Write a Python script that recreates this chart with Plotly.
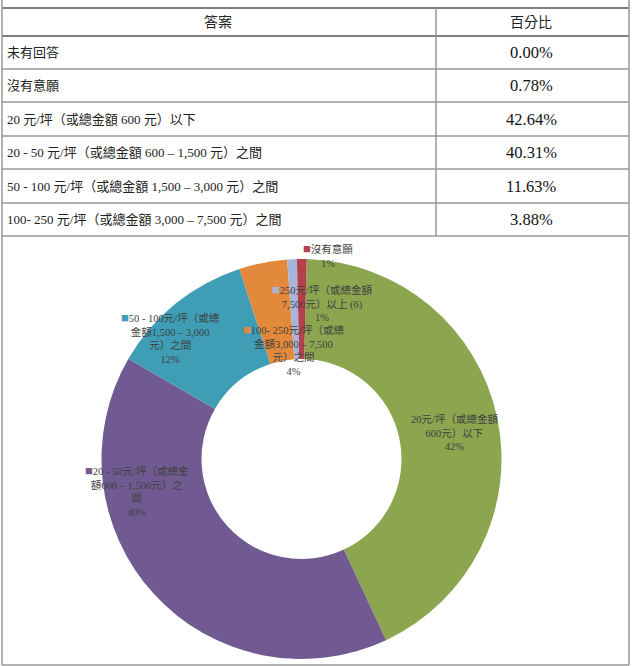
import plotly.graph_objects as go

# ---------------- data ----------------
table_header = ["答案", "百分比"]
answers = [
    "未有回答",
    "沒有意願",
    "20 元/坪（或總金額 600 元）以下",
    "20 - 50 元/坪（或總金額 600 – 1,500 元）之間",
    "50 - 100 元/坪（或總金額 1,500 – 3,000 元）之間",
    "100- 250 元/坪（或總金額 3,000 – 7,500 元）之間",
]
percents = [0.00, 0.78, 42.64, 40.31, 11.63, 3.88]

pie_labels = [
    "20元/坪（或總金額<br>600元）以下",
    "20 - 50元/坪（或總金<br>額600 – 1,500元）之<br>間",
    "50 - 100元/坪（或總<br>金額1,500 – 3,000<br>元）之間",
    "100- 250元/坪（或總<br>金額3,000 – 7,500<br>元）之間",
    "250元/坪（或總金額<br>7,500元）以上 (6)",
    "沒有意願",
]
pie_values = [42.64, 40.31, 11.63, 3.88, 0.78, 0.78]
pie_pct_text = ["42%", "40%", "12%", "4%", "1%", "1%"]
pie_colors = ["#8BA64F", "#705A91", "#3F9DB6", "#E3893B", "#A7B5DB", "#B5404B"]
show_key = [False, True, True, True, True, True]

# ---------------- layout helpers ----------------
W, H = 632, 666


def fx(px):
    return px / W


def fy(py):
    return 1 - py / H


fig = go.Figure()

# donut
cx, cy, r = 301.5, 459, 200
fig.add_trace(go.Pie(
    labels=[l.replace("<br>", "") for l in pie_labels],
    values=pie_values,
    hole=0.5,
    sort=False,
    direction="clockwise",
    rotation=1.5,
    textinfo="none",
    hoverinfo="label+percent",
    marker=dict(colors=pie_colors, line=dict(color="white", width=0)),
    domain=dict(x=[fx(cx - r), fx(cx + r)], y=[fy(cy + r), fy(cy - r)]),
    showlegend=False,
))

shapes = []
line_dark = dict(color="#555555", width=1.5)
line_gray = dict(color="#999999", width=1.5)

# table row lines
row_lines = [8, 36, 69, 102, 136, 169, 203, 236]
for i, yy in enumerate(row_lines):
    shapes.append(dict(type="line", xref="paper", yref="paper",
                       x0=fx(2), x1=fx(629), y0=fy(yy), y1=fy(yy),
                       line=line_dark if i < 2 else line_gray))
# column divider
shapes.append(dict(type="line", xref="paper", yref="paper",
                   x0=fx(436), x1=fx(436), y0=fy(8), y1=fy(236), line=line_gray))
# outer frame
shapes.append(dict(type="line", xref="paper", yref="paper",
                   x0=fx(2), x1=fx(2), y0=fy(0), y1=fy(665), line=line_gray))
shapes.append(dict(type="line", xref="paper", yref="paper",
                   x0=fx(629), x1=fx(629), y0=fy(0), y1=fy(665), line=line_gray))
shapes.append(dict(type="line", xref="paper", yref="paper",
                   x0=fx(2), x1=fx(629), y0=fy(665), y1=fy(665), line=line_gray))

annotations = []
serif = "Liberation Serif, Noto Sans CJK TC"


def ann(text, x, y, size, color, xanchor="center", align="center"):
    annotations.append(dict(text=text, x=fx(x), y=fy(y), xref="paper", yref="paper",
                            xanchor=xanchor, yanchor="middle", align=align,
                            showarrow=False,
                            font=dict(family=serif, size=size, color=color)))


# header
ann(table_header[0], 218, 22, 14, "#222")
ann(table_header[1], 531, 22, 14, "#222")

row_centers = [52.5, 85.5, 119, 152.5, 186, 219.5]
for a, p, yc in zip(answers, percents, row_centers):
    ann(a, 5, yc, 13, "#222", xanchor="left", align="left")
    ann(f"{p:.2f}%", 531, yc, 16.5, "#111")

# pie data labels (text-block centers, pixels)
label_pos = [(455, 433), (137, 490), (170, 337), (293, 349), (323, 302), (328, 255)]
for lab, pct, col, key, (lx, ly) in zip(pie_labels, pie_pct_text, pie_colors, show_key, label_pos):
    txt = lab
    if key:
        txt = f"<span style='color:{col};font-size:13px'>■</span>" + txt
    txt = txt + "<br>" + pct
    ann(txt, lx, ly, 10.5, "#404040")

fig.update_layout(
    width=W, height=H,
    margin=dict(l=0, r=0, t=0, b=0),
    paper_bgcolor="white",
    plot_bgcolor="white",
    shapes=shapes,
    annotations=annotations,
)

fig.write_html("out.html")
